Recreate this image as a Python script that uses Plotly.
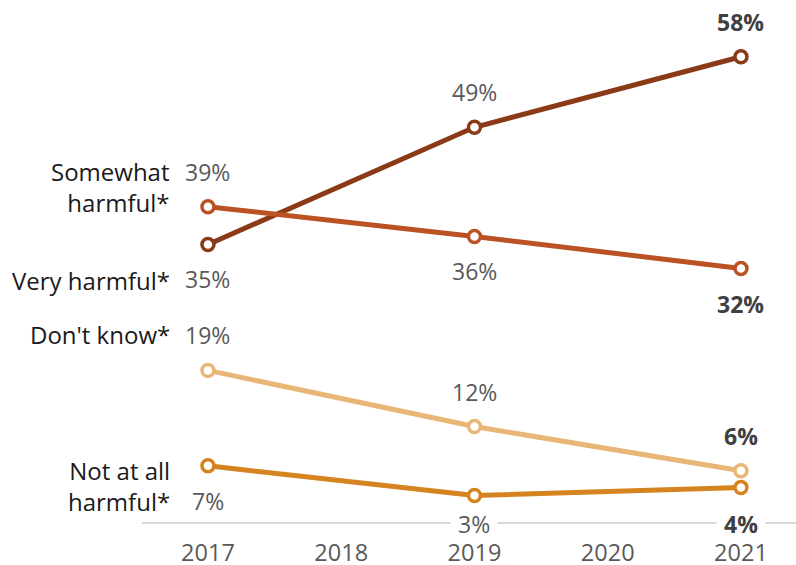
import plotly.graph_objects as go

years = [2017, 2019, 2021]
series_names = ["Very harmful*", "Somewhat harmful*", "Don't know*", "Not at all harmful*"]
very_harmful = [34.6, 49.2, 58.0]
somewhat_harmful = [39.3, 35.6, 31.6]
dont_know = [18.9, 11.9, 6.4]
not_at_all = [7.0, 3.3, 4.3]
tick_years = [2017, 2018, 2019, 2020, 2021]

values = [very_harmful, somewhat_harmful, dont_know, not_at_all]
colors = ["#8B3A17", "#BA5224", "#E9B677", "#D4831F"]
# label placement: +1 above, -1 below, per point
label_side = [
    [-1, 1, 1],
    [1, -1, -1],
    [1, 1, 1],
    [-1, -1, -1],
]
side_names = [
    ("Very harmful*", -1),
    ("Somewhat<br>harmful*", 1),
    ("Don't know*", 1),
    ("Not at all<br>harmful*", -1),
]

FONT = "Open Sans"
FS = 23
fig = go.Figure()
for name, vals, col in zip(series_names, values, colors):
    fig.add_trace(go.Scatter(
        x=years, y=vals, mode="lines+markers", name=name,
        line=dict(color=col, width=5),
        marker=dict(symbol="circle", size=12, color="white",
                    line=dict(color=col, width=3.5)),
        hoverinfo="skip",
    ))

anns = []
for vals, sides in zip(values, label_side):
    for i, (x, v, s) in enumerate(zip(years, vals, sides)):
        last = i == len(years) - 1
        txt = f"<b>{round(v)}%</b>" if last else f"{round(v)}%"
        a = dict(x=x, y=v, xref="x", yref="y", text=txt, showarrow=False,
                 yshift=35 * s, font=dict(family=FONT, size=FS,
                                          color="#404040" if last else "#595959"))
        if s < 0 and v < 5:
            # label sits on the baseline, masking it
            a["y"] = 0
            a["yshift"] = -2
            a["bgcolor"] = "white"
            a["borderpad"] = 1
            a["text"] = "&nbsp;" + txt + "&nbsp;"
        anns.append(a)

for (lab, s), vals in zip(side_names, values):
    nlines = lab.count("<br>") + 1
    shift = (36 if nlines == 1 else 20) * s
    anns.append(dict(
        x=years[0], y=vals[0], xref="x", yref="y", text=lab, showarrow=False,
        xanchor="right", xshift=-36, align="right", yanchor="middle",
        yshift=shift,
        font=dict(family=FONT, size=24, color="#1a1a1a"),
    ))

fig.update_layout(
    width=796, height=565,
    margin=dict(l=142, r=0, t=0, b=43, autoexpand=False),
    paper_bgcolor="white", plot_bgcolor="white",
    showlegend=False,
    annotations=anns,
    font=dict(family=FONT),
    xaxis=dict(range=[2016.505, 2021.413], tickvals=tick_years,
               ticktext=[str(t) for t in tick_years],
               showgrid=False, zeroline=False, showline=True,
               linecolor="#d9d9d9", linewidth=2, automargin=False,
               ticks="outside", ticklen=9, tickcolor="rgba(0,0,0,0)",
               tickfont=dict(family=FONT, size=23.5, color="#595959"),
               fixedrange=True),
    yaxis=dict(range=[0, 65.07], visible=False, fixedrange=True,
               automargin=False),
)
fig.write_html("out.html")
